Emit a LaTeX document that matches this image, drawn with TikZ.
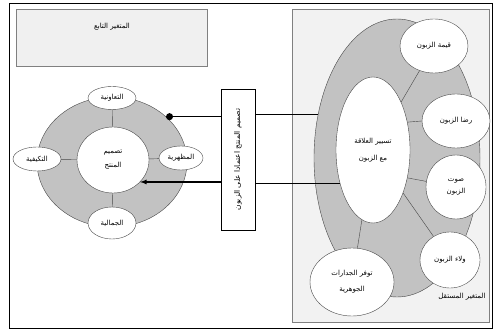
\documentclass[tikz,border=0pt]{standalone}
\usepackage{fontspec}
\usetikzlibrary{shapes,arrows,calc}
\newfontfamily\arabicfont[Script=Arabic]{DejaVu Sans}
\TeXXeTstate=1
\newcommand{\artext}[1]{{\arabicfont\beginR #1\endR}}
\definecolor{ringgray}{HTML}{C2C2C2}
\definecolor{panelgray}{HTML}{F2F2F2}
\definecolor{boxgray}{HTML}{F0F0F0}
\definecolor{linegray}{HTML}{484848}

\begin{document}
\begin{tikzpicture}[x=1pt, y=1pt, font=\fontsize{7}{9}\selectfont,
    ring/.style={ellipse, draw=linegray, fill=ringgray, inner sep=0pt},
    bubble/.style={ellipse, draw=linegray, fill=white, inner sep=0pt, align=center},
    spoke/.style={draw=linegray},
    link/.style={line width=1.2pt}]
		\useasboundingbox (0,0) rectangle (494,332);
		\draw (9,4) rectangle (492,329);
		\draw[gray, fill=boxgray] (16,266) rectangle (207,323);
		\draw[gray, fill=panelgray] (292,10) rectangle (489,323);

		% left diagram
		\path (112,170) node[ring, minimum width=150, minimum height=130] (ringL) {}
  		(113,172) node[bubble, minimum width=72, minimum height=66] (centre) {\artext{تصميم}\\[5pt]\artext{المنتج}}
  		(112,234) node[bubble, minimum width=48, minimum height=23] (coop) {\artext{التعاونية}}
  		(37,173) node[bubble, minimum width=48, minimum height=24] (adapt) {\artext{التكيفية}}
  		(181,174) node[bubble, minimum width=44, minimum height=24] (look) {\artext{المظهرية}}
  		(112,109) node[bubble, minimum width=48, minimum height=32] (beauty) {\artext{الجمالية}}
  		(112,305) node (dependent) {\artext{المتغير التابع}};

		\draw[spoke] (centre) -- (coop);
		\draw[spoke] (centre) -- (adapt);
		\draw[spoke] (centre) -- (look);
		\draw[spoke] (centre) -- (beauty);

		% right diagram
		\path (397,174) node[ring, minimum width=166, minimum height=278] (ringR) {}
  		(373,182) node[bubble, minimum width=74, minimum height=146] (rel) {\artext{تسيير العلاقة}\\[8pt]\artext{مع الزبون}}
  		(434,286) node[bubble, minimum width=68, minimum height=54] (value) {\artext{قيمة الزبون}}
  		(456,211) node[bubble, minimum width=68, minimum height=54] (satisf) {\artext{رضا الزبون}}
  		(456,145) node[bubble, minimum width=60, minimum height=64] (voice) {\artext{صوت}\\[3pt]\artext{الزبون}}
  		(450,72) node[bubble, minimum width=60, minimum height=56] (loyal) {\artext{ولاء الزبون}}
  		(352,50) node[bubble, minimum width=84, minimum height=68] (skills) {\artext{توفر الجدارات}\\[7pt]\artext{الجوهرية}}
  		(462,35) node (independent) {\artext{المتغير المستقل}};

		\draw[spoke] (rel) -- (value);
		\draw[spoke] (rel.39.5) -- (satisf.west);
		\draw[spoke] (rel.-39.5) -- (voice);
		\draw[spoke] (rel) -- (loyal);
		\draw[spoke] (rel) -- (skills);

		% link box
		\node[draw, fill=white, minimum width=34, minimum height=141, inner sep=0pt] (design) at (238,172.5)
  		{\rotatebox{90}{\fontsize{7.5}{9}\selectfont\artext{تصميم المنتج اعتمادا على الزبون}}};

		\draw[link] (ringR.151) -- (design.east |- ringR.151);
		\draw[link, -*] (design.west |- ringL.40) -- (ringL.40);
		\draw[link] (rel.225) -- (design.east |- rel.225);
		\draw[link, -latex] (design.west |- centre.-39) -- (centre.-39);
	\end{tikzpicture}
\end{document}
